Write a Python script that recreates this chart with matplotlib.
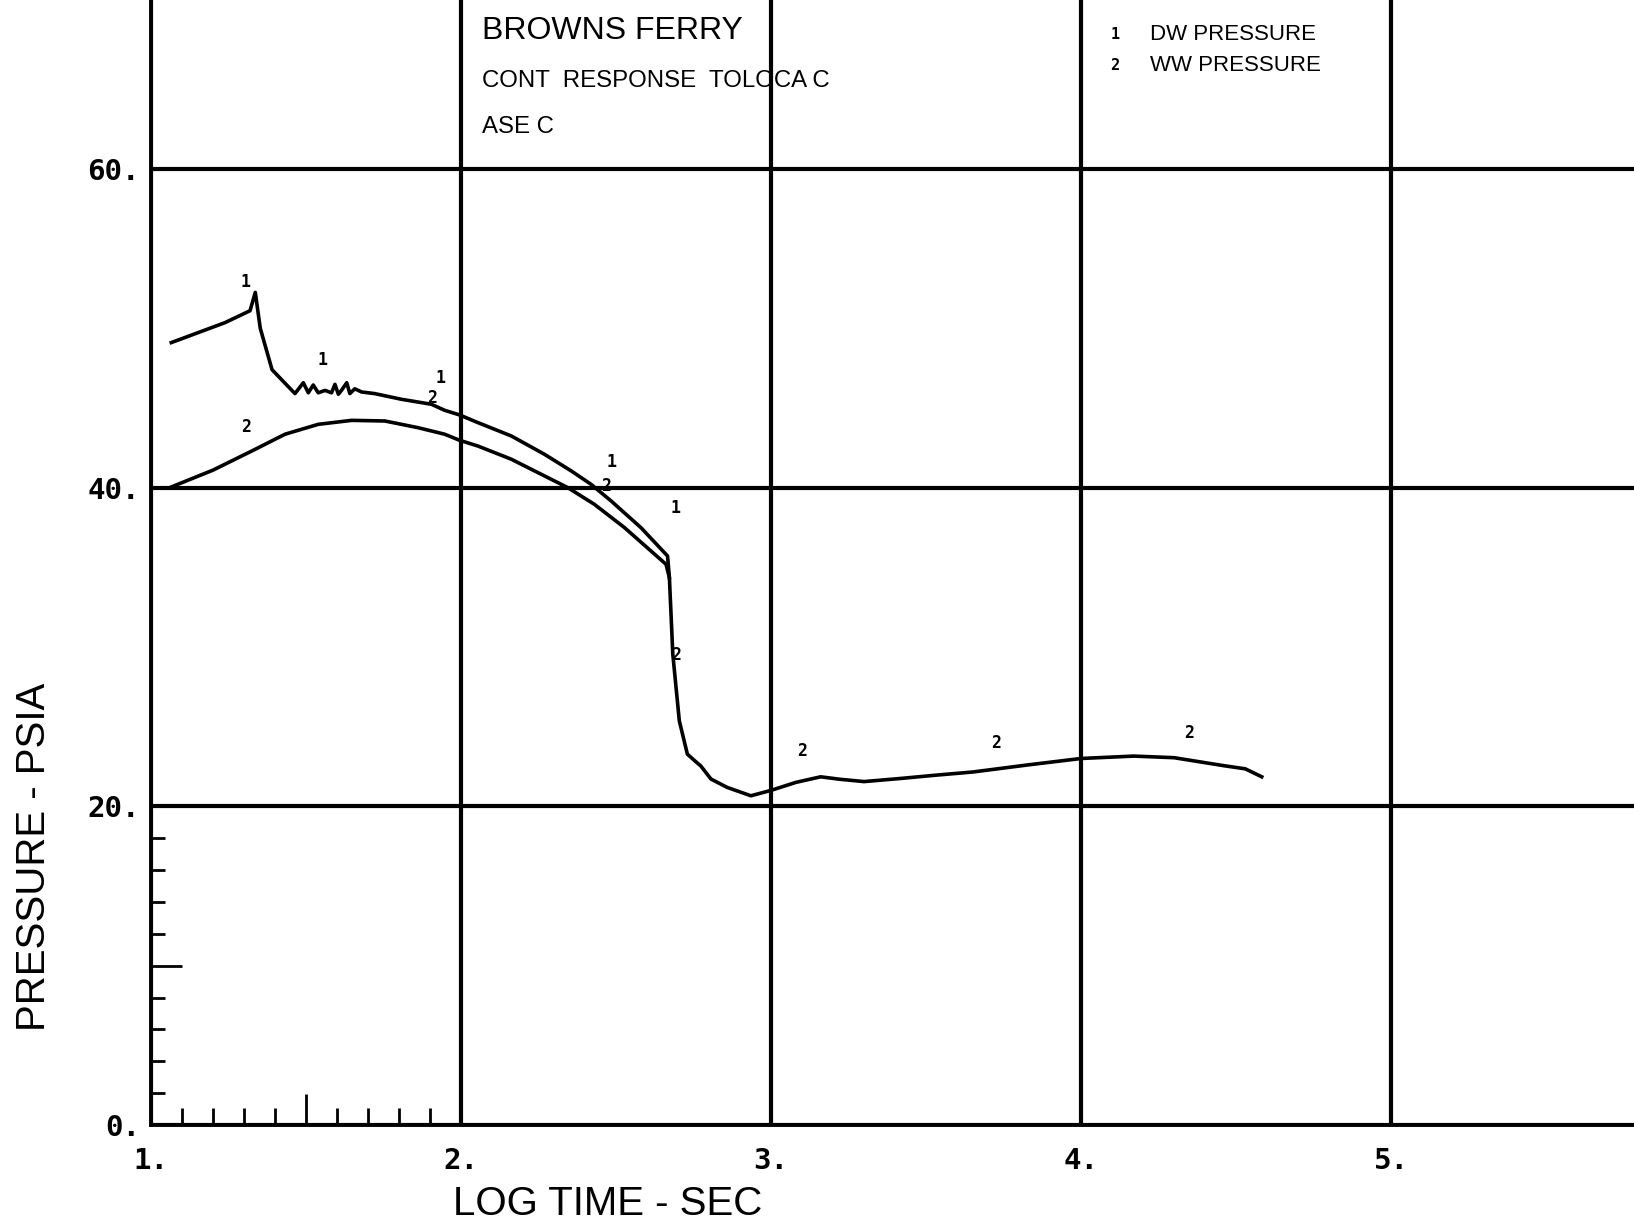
"""Browns Ferry containment response: DW / WW pressure vs log time."""

import matplotlib

matplotlib.use("Agg")
import matplotlib.pyplot as plt
from matplotlib.ticker import FixedLocator, FuncFormatter

# ---- data -------------------------------------------------------------------
# drywell pressure (curve 1), psia, up to where it merges with curve 2
dw_logt = [1.065, 1.238, 1.319, 1.336, 1.352, 1.39, 1.464, 1.491, 1.507, 1.523,
           1.539, 1.561, 1.582, 1.593, 1.604, 1.614, 1.631, 1.641, 1.657, 1.679,
           1.70, 1.721, 1.808, 1.904, 1.947, 1.995, 2.054, 2.162, 2.269, 2.355,
           2.419, 2.484, 2.580, 2.666, 2.672]
dw_psia = [49.1, 50.35, 51.1, 52.25, 50.0, 47.4, 45.9, 46.58, 45.95, 46.44,
           45.95, 46.1, 45.95, 46.48, 45.86, 46.1, 46.58, 45.9, 46.2, 46.0,
           45.95, 45.9, 45.54, 45.23, 44.85, 44.56, 44.08, 43.24, 42.09, 41.05,
           40.21, 39.16, 37.49, 35.71, 34.35]

# wetwell pressure (curve 2), psia
ww_logt = [1.06, 1.20, 1.325, 1.432, 1.539, 1.647, 1.754, 1.861, 1.947, 1.995,
           2.054, 2.162, 2.258, 2.344, 2.430, 2.527, 2.661, 2.672, 2.683, 2.704,
           2.730, 2.760, 2.773, 2.806, 2.859, 2.935, 3.0, 3.08, 3.16, 3.22,
           3.30, 3.42, 3.53, 3.65, 3.83, 4.0, 4.17, 4.30, 4.46, 4.53, 4.583]
ww_psia = [40.0, 41.1, 42.3, 43.35, 43.97, 44.22, 44.18, 43.76, 43.35, 42.97,
           42.61, 41.78, 40.84, 40.0, 38.95, 37.49, 35.19, 34.35, 29.54, 25.36,
           23.27, 22.75, 22.54, 21.71, 21.18, 20.66, 21.0, 21.5, 21.85, 21.7,
           21.55, 21.75, 21.95, 22.15, 22.6, 23.0, 23.15, 23.05, 22.55, 22.35,
           21.85]

# curve-identifier symbols the plotter dropped along the curves
tag_text = ["1", "1", "1", "2", "2", "1", "2", "1", "2", "2", "2", "2"]
tag_logt = [1.305, 1.554, 1.933, 1.906, 1.305, 2.486, 2.468, 2.691, 2.695, 3.101, 3.725, 4.349]
tag_psia = [52.9, 48.0, 46.9, 45.6, 43.8, 41.6, 40.1, 38.7, 29.5, 23.5, 24.0, 24.6]

x_major = [1, 2, 3, 4, 5]
y_major = [0, 20, 40, 60]
x_minor = [1.1, 1.2, 1.3, 1.4, 1.5, 1.6, 1.7, 1.8, 1.9]
y_minor = [2, 4, 6, 8, 10, 12, 14, 16, 18]

title_lines = ["BROWNS FERRY", "CONT  RESPONSE  TOLOCA C", "ASE C"]
legend_ids = ["1", "2"]
legend_names = ["DW PRESSURE", "WW PRESSURE"]

# ---- figure -----------------------------------------------------------------
MONO = ["DejaVu Sans Mono"]
SANS = ["Liberation Sans", "DejaVu Sans"]

LEFT, BOTTOM = 0.0925, 0.0809
fig = plt.figure(figsize=(16.34, 12.24), dpi=100)
ax = fig.add_axes([LEFT, BOTTOM, 1 - LEFT, 1 - BOTTOM])
ax.set_xlim(1.0, 5.784)
ax.set_ylim(0, 70.6)

ax.plot(dw_logt, dw_psia, color="black", lw=2.6, solid_joinstyle="round")
ax.plot(ww_logt, ww_psia, color="black", lw=2.6, solid_joinstyle="round")

for t, x, y in zip(tag_text, tag_logt, tag_psia):
    ax.text(x, y, t, fontsize=12, fontweight="bold", family=MONO,
            ha="center", va="center")

# grid + axes, plotter style
for side in ("top", "right"):
    ax.spines[side].set_visible(False)
for side in ("left", "bottom"):
    ax.spines[side].set_linewidth(2.8)

ax.xaxis.set_major_locator(FixedLocator(x_major))
ax.yaxis.set_major_locator(FixedLocator(y_major))
ax.xaxis.set_minor_locator(FixedLocator(x_minor))
ax.yaxis.set_minor_locator(FixedLocator(y_minor))
fmt = FuncFormatter(lambda v, _: f"{v:.0f}.")
ax.xaxis.set_major_formatter(fmt)
ax.yaxis.set_major_formatter(fmt)
ax.grid(True, which="major", color="black", lw=3.0)
ax.set_axisbelow(False)

ax.tick_params(which="major", length=0, labelsize=21, pad=8)
ax.tick_params(axis="x", which="major", pad=16)
ax.tick_params(which="minor", direction="in", width=2.0)
ax.tick_params(axis="x", which="minor", length=12)
ax.tick_params(axis="y", which="minor", length=10)
for lab in ax.get_xticklabels() + ax.get_yticklabels():
    lab.set_family(MONO)
    lab.set_fontweight("bold")

# longer tick at the half-way marks (1.5 and 10.)
for tick, v in zip(ax.xaxis.get_minor_ticks(), x_minor):
    if abs(v - 1.5) < 1e-6:
        tick.tick1line.set_markersize(22)
for tick, v in zip(ax.yaxis.get_minor_ticks(), y_minor):
    if v == 10:
        tick.tick1line.set_markersize(22)

fig.text(0.021, BOTTOM + 0.238 * (1 - BOTTOM), "PRESSURE - PSIA", rotation=90,
         fontsize=29, family=SANS, ha="center", va="center")
fig.text(0.372, 0.0165, "LOG TIME - SEC", fontsize=29, family=SANS,
         ha="center", va="center")

# header text block
ax.text(2.069, 68.65, title_lines[0], fontsize=23, family=SANS, va="center")
ax.text(2.069, 65.5, title_lines[1], fontsize=17.3, family=SANS, va="center")
ax.text(2.069, 62.6, title_lines[2], fontsize=17.3, family=SANS, va="center")

for i, (num, name) in enumerate(zip(legend_ids, legend_names)):
    y = 68.45 - 1.95 * i
    ax.text(4.11, y, num, fontsize=11, fontweight="bold", family=MONO,
            ha="center", va="center")
    ax.text(4.221, y, name, fontsize=16, family=SANS, va="center")

fig.savefig("out.png", dpi=100, facecolor="white")
